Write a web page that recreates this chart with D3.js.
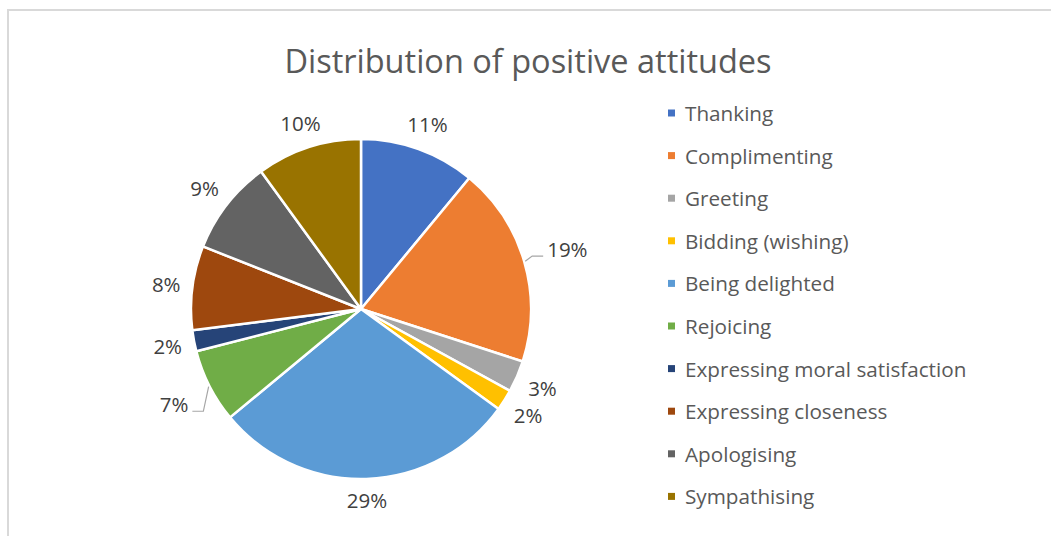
<!DOCTYPE html>
<html><head><meta charset="utf-8">
<script src="https://cdn.jsdelivr.net/npm/d3@7"></script>
<style>
html,body{margin:0;padding:0;background:#fff;}
svg{display:block;}
text{font-family:"Open Sans",sans-serif;}
</style></head>
<body>
<svg id="chart" width="1051" height="536"></svg>
<script>
const title = "Distribution of positive attitudes";
const categories = ["Thanking","Complimenting","Greeting","Bidding (wishing)","Being delighted","Rejoicing","Expressing moral satisfaction","Expressing closeness","Apologising","Sympathising"];
const values = [11,19,3,2,29,7,2,8,9,10];
const colors = ["#4472C4","#ED7D31","#A5A5A5","#FFC000","#5B9BD5","#70AD47","#264478","#9E480E","#636363","#997300"];
const leaderFlags = [false,true,false,false,false,true,false,false,false,false];

const svg = d3.select("#chart");
const W = 1051, H = 536;

// frame
svg.append("path").attr("d", `M8,${H+5}V10H${W+5}`).attr("fill","none").attr("stroke","#d9d9d9").attr("stroke-width",2);

svg.append("text").attr("x",528).attr("y",73).attr("text-anchor","middle")
  .attr("font-size",32.5).attr("fill","#595959").text(title);

const cx = 361, cy = 309, R = 170;
const g = svg.append("g").attr("transform",`translate(${cx},${cy})`);
const pie = d3.pie().sort(null).value(d=>d.v);
const data = categories.map((c,i)=>({c, v:values[i], col:colors[i], leader:leaderFlags[i]}));
const arcs = pie(data);
const arc = d3.arc().innerRadius(0).outerRadius(R);
const total = d3.sum(values);
const fmt = d => Math.round(d/total*100) + "%";

g.selectAll("path.slice").data(arcs).join("path")
  .attr("class","slice").attr("d",arc).attr("fill",d=>d.data.col)
  .attr("stroke","#fff").attr("stroke-width",2.5).attr("stroke-linejoin","round");

// labels
arcs.forEach(d=>{
  const a = (d.startAngle + d.endAngle)/2;
  const sx = Math.sin(a), sy = -Math.cos(a);
  const t = g.append("text").attr("font-size",20.5).attr("fill","#404040")
    .attr("text-anchor","middle").attr("dominant-baseline","central").text(fmt(d.data.v));
  const bb = t.node().getBBox();
  const hw = bb.width/2, hh = 9;
  const ext = Math.abs(sx)*hw + Math.abs(sy)*hh;
  const gap = d.data.leader ? 23 : 11;
  const dist = R + gap + ext;
  const lx = sx*dist, ly = sy*dist;
  t.attr("x",lx).attr("y",ly);
  if (d.data.leader) {
    const side = sx > 0 ? -1 : 1; // toward pie
    const px = lx + side*(hw+4), py = ly + 7;
    const ex = px + side*11;
    const ax = Math.sin(a)*(R+1), ay = -Math.cos(a)*(R+1);
    g.append("path").attr("d",`M${px},${py}H${ex}L${ax},${ay}`)
      .attr("fill","none").attr("stroke","#a6a6a6").attr("stroke-width",1.2);
  }
});

// legend
const lg = svg.append("g").attr("transform","translate(668,113)");
const rowH = 42.6;
const rows = lg.selectAll("g").data(data).join("g").attr("transform",(d,i)=>`translate(0,${i*rowH})`);
rows.append("rect").attr("x",0).attr("y",-3.5).attr("width",7).attr("height",7).attr("fill",d=>d.col);
rows.append("text").attr("x",17).attr("y",0).attr("dominant-baseline","central")
  .attr("font-size",20.7).attr("fill","#595959").text(d=>d.c);
</script>
</body></html>
